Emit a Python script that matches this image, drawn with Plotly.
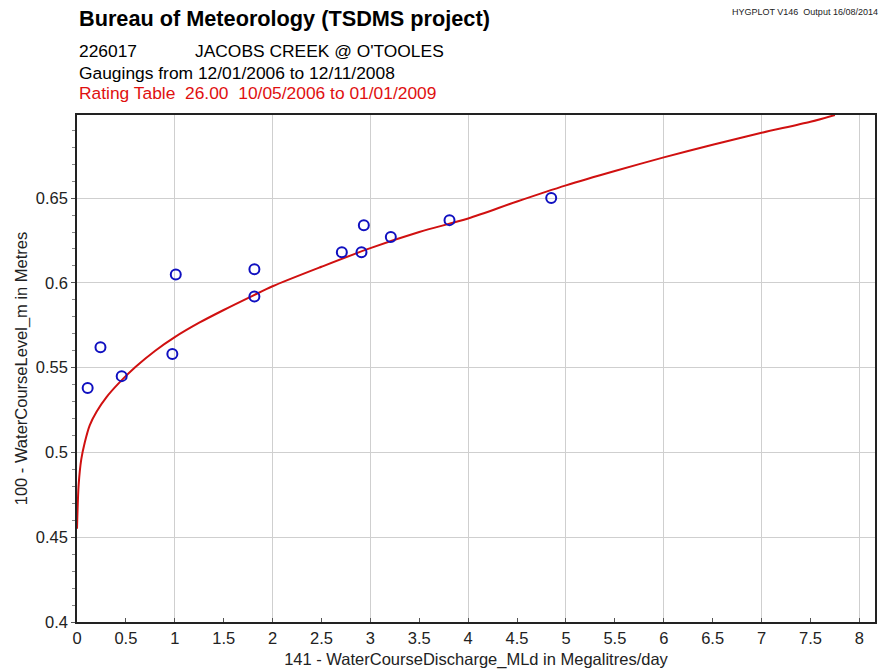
import plotly.graph_objects as go

# Gauging points (discharge ML/d, level m)
gauge_q = [0.109, 0.24, 0.457, 0.975, 1.01, 1.814, 1.814, 2.708, 2.909, 2.933, 3.209, 3.809, 4.849]
gauge_h = [0.538, 0.562, 0.545, 0.558, 0.605, 0.608, 0.592, 0.618, 0.618, 0.634, 0.627, 0.637, 0.650]

# Rating table 26.00 curve
rating_q = [0, 0.017, 0.044, 0.08, 0.13, 0.2, 0.3, 0.44, 0.6, 0.8, 1.0, 1.25, 1.5, 1.8, 2.0,
            2.5, 3.0, 3.5, 4.0, 4.5, 5.0, 5.5, 6.0, 6.5, 7.0, 7.5, 7.75]
rating_h = [0.455, 0.481, 0.496, 0.506, 0.516, 0.524, 0.5325, 0.5416, 0.5505, 0.560, 0.568, 0.5765,
            0.584, 0.5925, 0.598, 0.6095, 0.6205, 0.630, 0.638, 0.648, 0.6575, 0.666, 0.674, 0.6815,
            0.6885, 0.695, 0.699]

x_ticks = [i * 0.5 for i in range(17)]
x_labels = ["0", "0.5", "1", "1.5", "2", "2.5", "3", "3.5", "4", "4.5", "5", "5.5", "6", "6.5", "7", "7.5", "8"]
y_ticks = [0.4, 0.45, 0.5, 0.55, 0.6, 0.65]
y_labels = ["0.4", "0.45", "0.5", "0.55", "0.6", "0.65"]

FONT = "Liberation Sans, Arial, sans-serif"
XR = [0, 8.16]
YR = [0.4, 0.699]

fig = go.Figure()
fig.add_trace(go.Scatter(x=rating_q, y=rating_h, mode="lines",
                         line=dict(color="#d01010", width=2, shape="spline", smoothing=0.8),
                         hoverinfo="skip", showlegend=False))
fig.add_trace(go.Scatter(x=gauge_q, y=gauge_h, mode="markers",
                         marker=dict(symbol="circle-open", size=10, color="#1010c0",
                                     line=dict(width=2, color="#1010c0")),
                         showlegend=False))
# invisible trace for the grid overlay axis
fig.add_trace(go.Scatter(x=XR, y=YR, xaxis="x2", mode="markers",
                         marker=dict(opacity=0), hoverinfo="skip", showlegend=False))

fig.update_layout(
    width=884, height=671,
    margin=dict(l=77, r=9, t=115, b=49),
    paper_bgcolor="white", plot_bgcolor="white",
    font=dict(family=FONT, size=14, color="#111111"),
    xaxis=dict(range=XR, tickmode="array", tickvals=x_ticks, ticktext=x_labels,
               showgrid=False, zeroline=False, showline=True, linecolor="#222222",
               linewidth=1.5, mirror=True, ticks="inside", ticklen=4, tickcolor="#555555",
               automargin=False,
               tickfont=dict(size=16.5, family=FONT, color="#222222"),
               title=dict(text="141 - WaterCourseDischarge_MLd in Megalitres/day",
                          font=dict(size=16.5, family=FONT, color="#222222"), standoff=8)),
    xaxis2=dict(range=XR, overlaying="x", dtick=1, tick0=0, showgrid=True,
                gridcolor="#cfcfcf", gridwidth=1, showticklabels=False, ticks="",
                zeroline=False, showline=False, automargin=False),
    yaxis=dict(range=YR, tickmode="array", tickvals=y_ticks, ticktext=y_labels,
               showgrid=True, gridcolor="#cfcfcf", gridwidth=1, zeroline=False,
               showline=True, linecolor="#222222", linewidth=1.5, mirror=True,
               ticks="outside", ticklen=4, tickcolor="#555555", automargin=False,
               minor=dict(dtick=0.01, tick0=0.4, ticks="outside", ticklen=3,
                          tickcolor="#888888", showgrid=False),
               tickfont=dict(size=16.5, family=FONT, color="#222222"),
               title=dict(text="100 - WaterCourseLevel_m in Metres",
                          font=dict(size=16.5, family=FONT, color="#222222"), standoff=4)),
)

fig.add_annotation(text="<b>Bureau of Meteorology (TSDMS project)</b>", xref="paper", yref="paper",
                   x=0, y=1, yshift=111, xanchor="left", yanchor="top",
                   showarrow=False, font=dict(size=21.7, family=FONT, color="#000000"))
fig.add_annotation(text="226017&nbsp;&nbsp;&nbsp;&nbsp;&nbsp;&nbsp;&nbsp;&nbsp;&nbsp;&nbsp;&nbsp;&nbsp;JACOBS CREEK @ O'TOOLES",
                   xref="paper", yref="paper", x=0, y=1, yshift=76, xanchor="left", yanchor="top",
                   showarrow=False, font=dict(size=17.4, family=FONT, color="#000000"))
fig.add_annotation(text="Gaugings from 12/01/2006 to 12/11/2008",
                   xref="paper", yref="paper", x=0, y=1, yshift=54, xanchor="left", yanchor="top",
                   showarrow=False, font=dict(size=17.4, family=FONT, color="#000000"))
fig.add_annotation(text="Rating Table&nbsp;&nbsp;26.00&nbsp;&nbsp;10/05/2006 to 01/01/2009",
                   xref="paper", yref="paper", x=0, y=1, yshift=34, xanchor="left", yanchor="top",
                   showarrow=False, font=dict(size=17.4, family=FONT, color="#e01010"))
fig.add_annotation(text="HYGPLOT V146&nbsp;&nbsp;Output 16/08/2014",
                   xref="paper", yref="paper", x=1, y=1, xshift=5, yshift=110, xanchor="right", yanchor="top",
                   showarrow=False, font=dict(size=9, family=FONT, color="#222222"))

fig.write_html("out.html", config={"displayModeBar": False},
               post_script="document.body.style.margin='0';")
